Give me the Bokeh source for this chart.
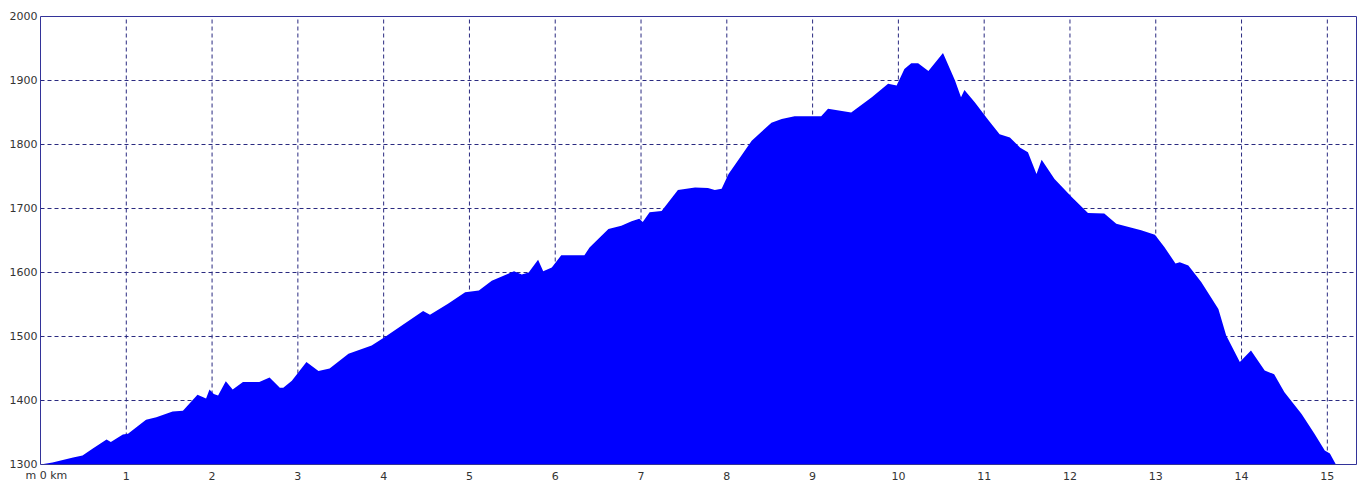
from bokeh.plotting import figure
from bokeh.models import Range1d
from bokeh.core.properties import value
from bokeh.embed import file_html
from bokeh.resources import INLINE

# distance along route (km) and elevation (m)
km = [0.00, 0.14, 0.38, 0.49, 0.61, 0.77, 0.82, 0.96, 1.02, 1.23, 1.35, 1.54, 1.66, 1.70,
      1.83, 1.93, 1.97, 2.02, 2.07, 2.16, 2.24, 2.36, 2.55, 2.67, 2.79, 2.83, 2.93, 3.10,
      3.24, 3.37, 3.59, 3.86, 4.01, 4.46, 4.54, 4.75, 4.95, 5.11, 5.26, 5.52, 5.61, 5.69,
      5.80, 5.86, 5.96, 6.07, 6.34, 6.40, 6.62, 6.77, 6.89, 6.98, 7.02, 7.10, 7.24, 7.43,
      7.63, 7.78, 7.86, 7.94, 8.02, 8.13, 8.29, 8.52, 8.64, 8.79, 9.10, 9.18, 9.45, 9.69,
      9.88, 9.98, 10.07, 10.15, 10.23, 10.35, 10.52, 10.66, 10.73, 10.77, 10.89, 11.05,
      11.18, 11.30, 11.42, 11.51, 11.61, 11.67, 11.82, 12.02, 12.21, 12.40, 12.54, 12.83,
      12.99, 13.10, 13.23, 13.28, 13.38, 13.53, 13.73, 13.82, 13.98, 14.11, 14.27, 14.38,
      14.50, 14.70, 14.85, 14.97, 15.03, 15.10]
elev = [1300, 1303, 1311, 1314, 1325, 1339, 1335, 1347, 1348, 1370, 1374, 1383, 1384, 1390,
        1409, 1403, 1417, 1410, 1408, 1430, 1417, 1429, 1429, 1436, 1420, 1420, 1431, 1460,
        1446, 1450, 1473, 1486, 1499, 1540, 1534, 1551, 1569, 1572, 1587, 1602, 1597, 1600,
        1620, 1602, 1608, 1627, 1627, 1639, 1668, 1673, 1680, 1684, 1679, 1694, 1696, 1729,
        1733, 1732, 1729, 1731, 1754, 1775, 1806, 1834, 1840, 1844, 1844, 1856, 1850, 1874,
        1895, 1892, 1918, 1927, 1927, 1915, 1943, 1900, 1874, 1885, 1866, 1838,
        1816, 1811, 1795, 1788, 1754, 1776, 1746, 1718, 1693, 1692, 1676, 1666,
        1659, 1640, 1614, 1616, 1611, 1585, 1543, 1502, 1460, 1478, 1447, 1441,
        1413, 1379, 1348, 1322, 1317, 1300]

x_ticks = list(range(1, 16))
x_labels = [str(t) for t in x_ticks]
y_ticks = [1300, 1400, 1500, 1600, 1700, 1800, 1900, 2000]
y_labels = [str(t) for t in y_ticks]
corner_label = "m 0 km"
X_MIN, X_MAX = 0.0, 15.34
Y_MIN, Y_MAX = 1300, 2000

W, H = 1364, 481
FL, FR, FT, FB = 40, 1356, 16, 464          # frame box in pixels
sx = (FR - FL) / (X_MAX - X_MIN)
sy = (FB - FT) / (Y_MAX - Y_MIN)
xr = Range1d(X_MIN - FL / sx, X_MAX + (W - FR) / sx)
yr = Range1d(Y_MIN - (H - FB) / sy, Y_MAX + FT / sy)

FONT = value("DejaVu Sans")
TXT = "#333333"
GRID = "#2a2a80"

p = figure(width=W, height=H, output_backend="svg", toolbar_location=None,
           x_range=xr, y_range=yr, x_axis_location=None, y_axis_location=None,
           min_border=0, min_border_left=0, min_border_right=0,
           min_border_top=0, min_border_bottom=0)
p.grid.visible = False
p.outline_line_color = None
p.background_fill_color = "white"
p.border_fill_color = "white"

# grid lines
p.segment(x0=x_ticks, y0=[Y_MIN] * len(x_ticks), x1=x_ticks, y1=[Y_MAX] * len(x_ticks),
          line_color=GRID, line_dash="4 3", line_width=1)
inner_y = y_ticks[1:-1]
p.segment(x0=[X_MIN] * len(inner_y), y0=inner_y, x1=[X_MAX] * len(inner_y), y1=inner_y,
          line_color=GRID, line_dash="4 3", line_width=1)

# elevation profile
p.varea(x=km, y1=Y_MIN, y2=elev, fill_color="#0000ff", fill_alpha=1.0)

# frame
p.quad(left=[X_MIN], right=[X_MAX], bottom=[Y_MIN], top=[Y_MAX],
       fill_alpha=0, line_color="#333399", line_width=1)

# tick labels
p.text(x=[X_MIN] * len(y_ticks), y=y_ticks, text=y_labels, x_offset=-3, y_offset=-1,
       text_align="right", text_baseline="alphabetic", text_font=FONT,
       text_font_size="11px", text_color=TXT)
p.text(x=x_ticks, y=[Y_MIN] * len(x_ticks), text=x_labels, y_offset=11,
       text_align="center", text_baseline="alphabetic", text_font=FONT,
       text_font_size="11px", text_color=TXT)
p.text(x=[X_MIN], y=[Y_MIN], text=[corner_label], x_offset=-15, y_offset=11,
       text_align="left", text_baseline="alphabetic", text_font=FONT,
       text_font_size="11px", text_color=TXT)

open("out.html", "w").write(file_html(p, INLINE))
